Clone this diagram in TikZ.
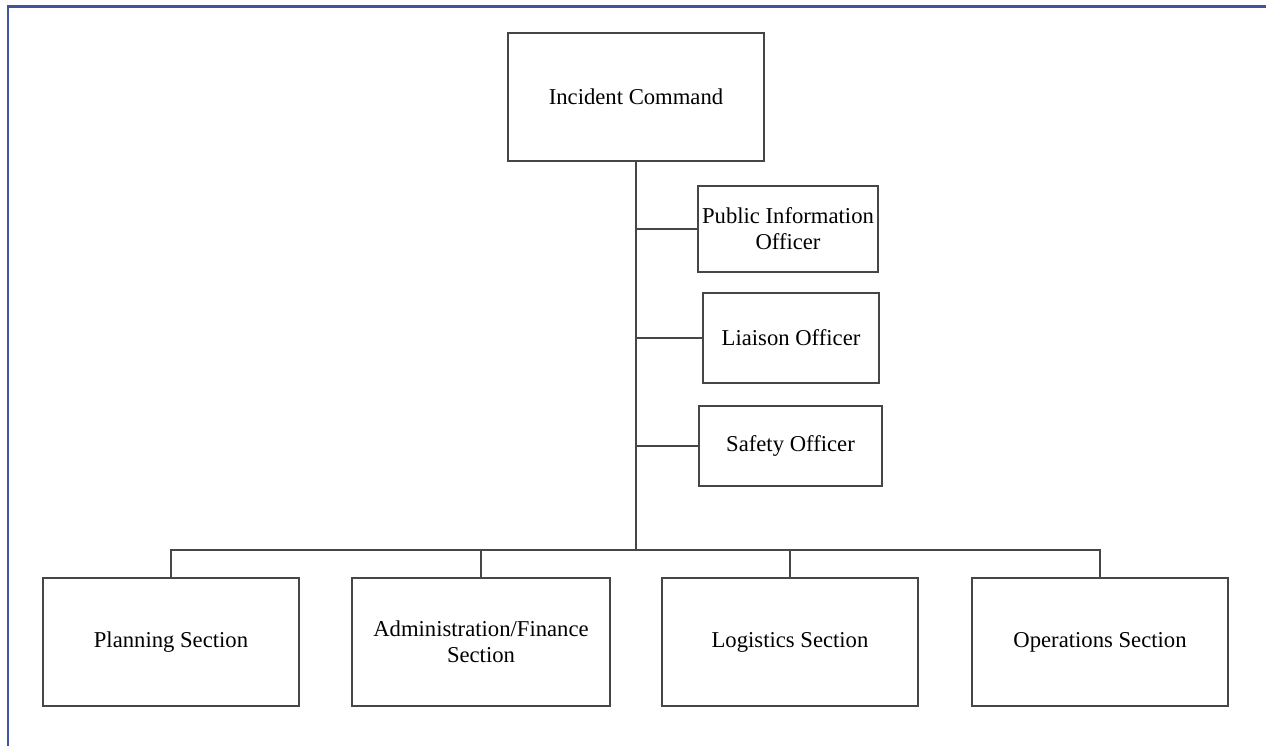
\documentclass[tikz,border=0pt]{standalone}
\usepackage{fontspec}
\setmainfont{Liberation Serif}
\definecolor{framecol}{RGB}{62,84,160}
\definecolor{boxline}{RGB}{70,70,70}
\tikzset{
  orgbox/.style={draw=boxline, line width=1.1pt, inner sep=0pt, align=center,
    font=\fontsize{12.9}{14.8}\selectfont},
  orgline/.style={draw=boxline, line width=1.1pt}
}
\begin{document}
\begin{tikzpicture}[x=0.02cm, y=-0.02cm]
\useasboundingbox (0,0) rectangle (1266,746);
\draw[framecol, line width=1.6pt] (8,746) -- (8,6.5) -- (1266,6.5);

\node[orgbox, minimum width=256*0.02cm, minimum height=128*0.02cm] (cmd) at (636,97){Incident Command};
\node[orgbox, minimum width=180*0.02cm, minimum height=86*0.02cm] (off0) at (788,229){Public Information\\Officer};
\node[orgbox, minimum width=176*0.02cm, minimum height=90*0.02cm] (off1) at (791,338){Liaison Officer};
\node[orgbox, minimum width=183*0.02cm, minimum height=80*0.02cm] (off2) at (790.5,446){Safety Officer};

\node[orgbox, minimum width=256*0.02cm, minimum height=128*0.02cm] (sec0) at (171,642){Planning Section};
\node[orgbox, minimum width=258*0.02cm, minimum height=128*0.02cm] (sec1) at (481,642){Administration/Finance\\Section};
\node[orgbox, minimum width=256*0.02cm, minimum height=128*0.02cm] (sec2) at (790,642){Logistics Section};
\node[orgbox, minimum width=256*0.02cm, minimum height=128*0.02cm] (sec3) at (1100,642){Operations Section};

\coordinate (bus) at (636,550);
\draw[orgline](cmd.south) -- (bus);
\draw[orgline](off0.west) -- (off0.west -| cmd.south);
\draw[orgline](off1.west) -- (off1.west -| cmd.south);
\draw[orgline](off2.west) -- (off2.west -| cmd.south);
\draw[orgline](sec0.north) |- (bus) -| (sec3.north);
\draw[orgline](sec1.north) -- (sec1.north |- bus);
\draw[orgline](sec2.north) -- (sec2.north |- bus);

\end{tikzpicture}
\end{document}
